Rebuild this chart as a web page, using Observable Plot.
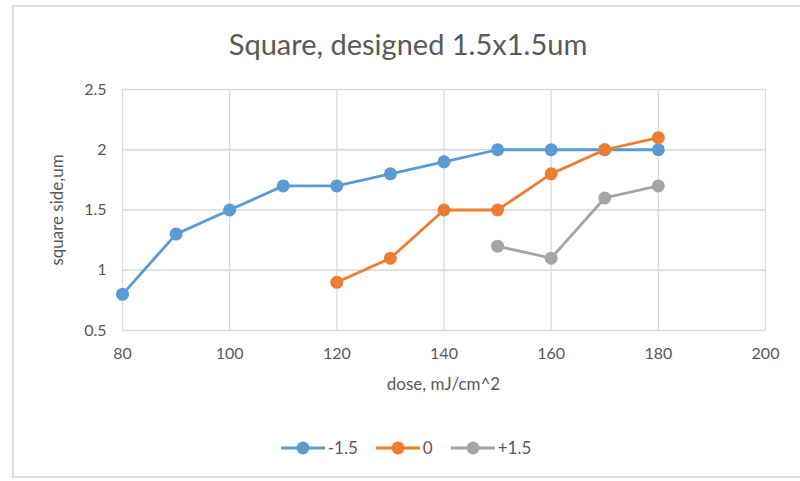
<!DOCTYPE html>
<html>
<head>
<meta charset="utf-8">
<script src="https://cdn.jsdelivr.net/npm/d3@7"></script>
<script src="https://cdn.jsdelivr.net/npm/@observablehq/plot@0.6"></script>
<style>
  html, body { margin: 0; padding: 0; background: #fff; }
  #wrap { position: relative; width: 800px; height: 481px; overflow: hidden; font-family: Lato, "Open Sans", sans-serif; color: #595959; }
  #sheet { position: absolute; left: 12px; top: 5px; width: 800px; height: 473px; border-left: 2px solid #dcdcdc; border-top: 2px solid #dcdcdc; border-bottom: 2px solid #dcdcdc; box-sizing: border-box; }
  #title { position: absolute; left: 8px; top: 29px; width: 800px; text-align: center; font-size: 29px; line-height: 30px; }
  #chart { position: absolute; left: 0; top: 70px; }
  #xlabel { position: absolute; left: 122px; width: 643px; top: 374px; text-align: center; font-size: 17px; line-height: 20px; }
  #ylabel { position: absolute; left: 57px; top: 210px; transform: translate(-50%, -50%) rotate(-90deg); white-space: nowrap; font-size: 17px; line-height: 20px; }
  #legend { position: absolute; left: 6px; top: 437px; width: 800px; display: flex; justify-content: center; gap: 18px; font-size: 17px; align-items: center; }
  .item { display: flex; align-items: center; gap: 3px; }
</style>
</head>
<body>
<div id="wrap">
  <div id="sheet"></div>
  <div id="title">Square, designed 1.5x1.5um</div>
  <div id="chart"></div>
  <div id="xlabel">dose, mJ/cm^2</div>
  <div id="ylabel">square side,um</div>
  <div id="legend"></div>
</div>
<script>
const seriesNames = ["-1.5", "0", "+1.5"];
const seriesColors = ["#5B9BD5", "#ED7D31", "#A5A5A5"];
const doseA = [80, 90, 100, 110, 120, 130, 140, 150, 160, 170, 180];
const sideA = [0.8, 1.3, 1.5, 1.7, 1.7, 1.8, 1.9, 2.0, 2.0, 2.0, 2.0];
const doseB = [120, 130, 140, 150, 160, 170, 180];
const sideB = [0.9, 1.1, 1.5, 1.5, 1.8, 2.0, 2.1];
const doseC = [150, 160, 170, 180];
const sideC = [1.2, 1.1, 1.6, 1.7];
const xTicks = [80, 100, 120, 140, 160, 180, 200];
const yTicks = [0.5, 1, 1.5, 2, 2.5];

const data = [];
[[doseA, sideA], [doseB, sideB], [doseC, sideC]].forEach(([xs, ys], i) => {
  xs.forEach((x, j) => data.push({series: seriesNames[i], dose: x, side: ys[j]}));
});

const plot = Plot.plot({
  width: 800,
  height: 335,
  marginTop: 19,
  marginBottom: 75,
  marginLeft: 122,
  marginRight: 35,
  style: {fontFamily: "Lato, 'Open Sans', sans-serif", fontSize: "16px", color: "#595959", background: "transparent"},
  x: {domain: [80, 200]},
  y: {domain: [0.5, 2.5]},
  color: {domain: seriesNames, range: seriesColors},
  marks: [
    Plot.gridX(xTicks, {stroke: "#d9d9d9", strokeOpacity: 1, strokeWidth: 1.3}),
    Plot.gridY(yTicks, {stroke: "#d9d9d9", strokeOpacity: 1, strokeWidth: 1.3}),
    Plot.axisX({ticks: xTicks, tickSize: 0, tickPadding: 17, fontSize: 16, label: null, tickFormat: d => String(d)}),
    Plot.axisY({ticks: yTicks, tickSize: 0, tickPadding: 16, fontSize: 16, label: null, tickFormat: d => String(d)}),
    Plot.line(data, {x: "dose", y: "side", z: "series", stroke: "series", strokeWidth: 2.8}),
    Plot.dot(data, {x: "dose", y: "side", fill: "series", r: 6.5})
  ]
});
document.getElementById("chart").appendChild(plot);

const legend = document.getElementById("legend");
seriesNames.forEach((name, i) => {
  const item = document.createElement("div");
  item.className = "item";
  item.innerHTML = `<svg width="44" height="14"><line x1="0" y1="7" x2="44" y2="7" stroke="${seriesColors[i]}" stroke-width="2.8"/><circle cx="22" cy="7" r="6.5" fill="${seriesColors[i]}"/></svg><span>${name}</span>`;
  legend.appendChild(item);
});
</script>
</body>
</html>
